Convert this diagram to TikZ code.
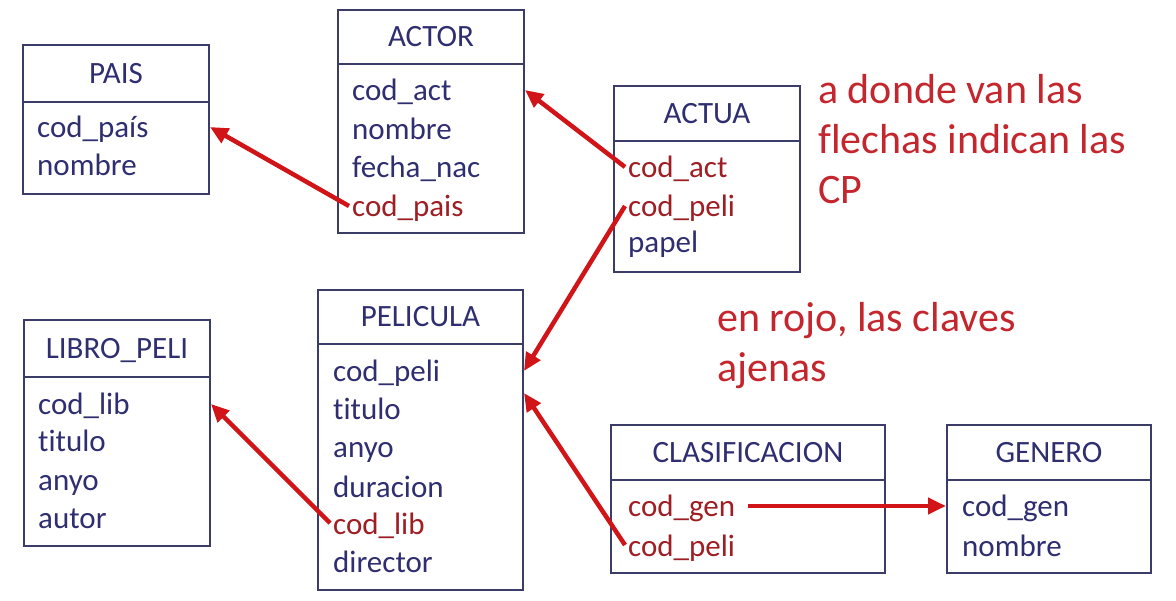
\documentclass[tikz,border=0pt]{standalone}
\usepackage{fontspec}
\setmainfont{Carlito}[Ligatures=NoCommon]
\usetikzlibrary{arrows.meta}

\definecolor{navy}{RGB}{46,46,112}
\definecolor{frame}{RGB}{60,60,105}
\definecolor{fkred}{RGB}{158,30,36}
\definecolor{notered}{RGB}{196,38,46}
\definecolor{arrowred}{RGB}{208,20,24}

\begin{document}
\begin{tikzpicture}[x=1pt,y=-1pt,
    head/.style={draw=frame, line width=2pt, anchor=north west, inner sep=0pt,
      text height=20pt, text depth=0pt},
    field/.style={anchor=west, inner sep=3pt, text height=30pt, text depth=8pt},
    key/.style={field, text=fkred},
    note/.style={anchor=north west, align=left, inner sep=0pt, text=notered,
      font=\fontsize{42}{50}\selectfont},
    fk/.style={draw=arrowred, line width=4.5pt, -{Triangle[length=18pt,width=16pt]}}]

  \useasboundingbox (0,0) rectangle (1176,601);

  \begin{scope}[every node/.style={text=navy, font=\fontsize{31}{36}\selectfont}]
    % PAIS
    \node[head, minimum width=186pt, minimum height=57pt] (pais) at (22,44) {PAIS};
    \node[head, minimum width=186pt, minimum height=92pt] (pais-b) at (22,101) {};
    \node[field] (pais1) at (34,127) {cod\_país};
    \node[field] (pais2) at (34,165) {nombre};

    % ACTOR
    \node[head, minimum width=186pt, minimum height=54pt] (actor) at (337,9) {ACTOR};
    \node[head, minimum width=186pt, minimum height=169pt] (actor-b) at (337,63) {};
    \node[field] (actor1) at (349,90) {cod\_act};
    \node[field] (actor2) at (349,129) {nombre};
    \node[field] (actor3) at (349,167) {fecha\_nac};
    \node[key] (actor4) at (349,206) {cod\_pais};

    % ACTUA
    \node[head, minimum width=186pt, minimum height=55pt] (actua) at (613,85) {ACTUA};
    \node[head, minimum width=186pt, minimum height=131pt] (actua-b) at (613,140) {};
    \node[key] (actua1) at (625,167) {cod\_act};
    \node[key] (actua2) at (625,206) {cod\_peli};
    \node[field] (actua3) at (625,242) {papel};

    % PELICULA
    \node[head, minimum width=205pt, minimum height=54pt] (peli) at (317,289) {PELICULA};
    \node[head, minimum width=205pt, minimum height=246pt] (peli-b) at (317,343) {};
    \node[field] (peli1) at (330,371) {cod\_peli};
    \node[field] (peli2) at (330,409) {titulo};
    \node[field] (peli3) at (330,447) {anyo};
    \node[field] (peli4) at (330,486) {duracion};
    \node[key] (peli5) at (330,523) {cod\_lib};
    \node[field] (peli6) at (330,561) {director};

    % LIBRO_PELI
    \node[head, minimum width=186pt, minimum height=57pt] (libro) at (23,319) {LIBRO\_PELI};
    \node[head, minimum width=186pt, minimum height=169pt] (libro-b) at (23,376) {};
    \node[field] (libro1) at (35,404) {cod\_lib};
    \node[field] (libro2) at (35,441) {titulo};
    \node[field] (libro3) at (35,480) {anyo};
    \node[field] (libro4) at (35,518) {autor};

    % CLASIFICACION
    \node[head, minimum width=274pt, minimum height=55pt] (clas) at (610,424) {CLASIFICACION};
    \node[head, minimum width=274pt, minimum height=93pt] (clas-b) at (610,479) {};
    \node[key] (clas1) at (625,506) {cod\_gen};
    \node[key] (clas2) at (625,545) {cod\_peli};

    % GENERO
    \node[head, minimum width=204pt, minimum height=55pt] (gen) at (946,424) {GENERO};
    \node[head, minimum width=204pt, minimum height=93pt] (gen-b) at (946,479) {};
    \node[field] (gen1) at (959,506) {cod\_gen};
    \node[field] (gen2) at (959,545) {nombre};
  \end{scope}

  % notas
  \node[note] (nota1) at (818,74) {a donde van las\\flechas indican las\\CP};
  \node[note] (nota2) at (717,302) {en rojo, las claves\\ajenas};

  % claves ajenas
  \path (peli-b.east |- peli1) ++(0,22) coordinate (peli-in);
  \draw[fk] (actor4.west) -- (pais-b.east |- pais1);
  \draw[fk] (actua1.west) -- (actor-b.east |- actor1);
  \draw[fk] (actua2.west) -- (peli-b.east |- peli1);
  \draw[fk] (clas2.west) -- (peli-in);
  \draw[fk] ([xshift=10pt]clas1.east) -- (gen-b.west |- gen1);
  \draw[fk] (peli5.west) -- (libro-b.east |- libro1);

\end{tikzpicture}
\end{document}
